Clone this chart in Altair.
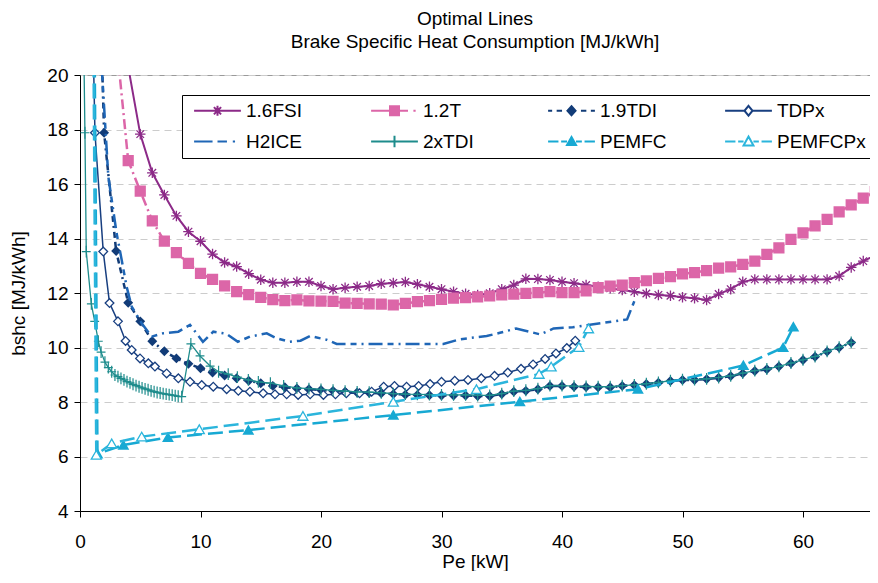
import altair as alt
import pandas as pd

FONT = "Liberation Sans"

SERIES = ["1.6FSI", "1.2T", "1.9TDI", "TDPx", "H2ICE", "2xTDI", "PEMFC", "PEMFCPx"]
COLORS = ["#8C2A88", "#DC66A8", "#123C78", "#183F80", "#1F66B6", "#1E8C8C", "#17A9D3", "#2BB5DC"]

FSI_X = [3, 4, 5, 6, 7, 8, 9, 10, 11, 12, 13, 14, 15, 16, 17, 18, 19, 20, 21, 22, 23, 24, 25, 26,
         27, 28, 29, 30, 31, 32, 33, 34, 35, 36, 37, 38, 39, 40, 41, 42, 43, 44, 45, 46, 47, 48, 49,
         50, 51, 52, 53, 54, 55, 56, 57, 58, 59, 60, 61, 62, 63, 64, 65, 66]
FSI_Y = [24.0, 20.3, 17.83, 16.41, 15.6, 14.83, 14.25, 13.9, 13.43, 13.12,
         12.97, 12.71, 12.49, 12.38, 12.38, 12.41, 12.41, 12.26, 12.14, 12.19,
         12.23, 12.26, 12.34, 12.37, 12.4, 12.32, 12.23, 12.14, 12.05, 11.97,
         11.93, 11.99, 12.14, 12.29, 12.52, 12.51, 12.48, 12.41, 12.36, 12.29,
         12.23, 12.17, 12.11, 12.05, 11.98, 11.93, 11.9, 11.84, 11.81, 11.74,
         11.96, 12.14, 12.41, 12.5, 12.5, 12.5, 12.5, 12.5, 12.5, 12.5,
         12.62, 12.94, 13.17, 13.39]

T12_X = [3, 4, 5, 6, 7, 8, 9, 10, 11, 12, 13, 14, 15, 16, 17, 18, 19, 20, 21, 22, 23, 24, 25, 26,
         27, 28, 29, 30, 31, 32, 33, 34, 35, 36, 37, 38, 39, 40, 41, 42, 43, 44, 45, 46, 47, 48, 49,
         50, 51, 52, 53, 54, 55, 56, 57, 58, 59, 60, 61, 62, 63, 64, 65, 66]
T12_Y = [21.3, 16.86, 15.74, 14.65, 13.9, 13.48, 13.09, 12.72, 12.5, 12.26,
         12.05, 11.94, 11.84, 11.76, 11.72, 11.75, 11.71, 11.7, 11.69, 11.63,
         11.62, 11.6, 11.59, 11.56, 11.62, 11.68, 11.72, 11.77, 11.81, 11.83,
         11.86, 11.89, 11.93, 11.96, 11.99, 12.01, 12.05, 12.01, 12.01, 12.08,
         12.2, 12.25, 12.29, 12.38, 12.45, 12.54, 12.6, 12.7, 12.75, 12.82,
         12.91, 12.96, 13.05, 13.17, 13.42, 13.66, 13.97, 14.21, 14.46, 14.7,
         14.98, 15.23, 15.48, 15.72]

TDI_X = [1.8, 2, 3, 4, 5, 6, 7, 8, 9, 10, 11, 12, 13, 14, 15, 16, 17, 18, 19, 20, 21, 22, 23, 24,
         25, 26, 27, 28, 29, 30, 31, 32, 33, 34, 35, 36, 37, 38, 39, 40, 41, 42, 43, 44, 45, 46,
         47, 48, 49, 50, 51, 52, 53, 54, 55, 56, 57, 58, 59, 60, 61, 62, 63, 64]
TDI_Y = [20.9, 17.88, 13.54, 11.64, 10.96, 10.23, 9.86, 9.6, 9.4, 9.24,
         9.08, 8.97, 8.87, 8.78, 8.69, 8.59, 8.54, 8.5, 8.47, 8.44,
         8.41, 8.38, 8.35, 8.34, 8.32, 8.29, 8.27, 8.26, 8.25, 8.24,
         8.24, 8.24, 8.22, 8.22, 8.29, 8.38, 8.41, 8.47, 8.59, 8.59,
         8.56, 8.55, 8.54, 8.54, 8.59, 8.62, 8.66, 8.71, 8.77, 8.81,
         8.81, 8.84, 8.89, 8.95, 9.05, 9.14, 9.2, 9.3, 9.42, 9.54,
         9.66, 9.85, 10.0, 10.18]

TDPX_X = [1.1, 1.24, 1.93, 2.45, 3.15, 3.78, 4.29, 4.98, 5.67, 6.22,
          7.19, 8.16, 9.13, 10.1, 11.06, 12.17, 13.14, 14.1, 15.2, 16.18,
          17.15, 18.1, 19.1, 20.2, 21.2, 22.1, 23.2, 24.2, 25.2, 26.1,
          27.1, 28.1, 29.05, 30.0, 31.1, 32.2, 33.3, 34.4, 35.5, 36.6,
          37.6, 38.6, 39.5, 40.4, 41.1]
TDPX_Y = [21.0, 17.88, 13.52, 11.63, 10.96, 10.24, 9.91, 9.6, 9.42, 9.3,
          9.05, 8.87, 8.74, 8.62, 8.56, 8.47, 8.41, 8.38, 8.32, 8.28,
          8.28, 8.26, 8.28, 8.26, 8.28, 8.32, 8.32, 8.38, 8.56, 8.59,
          8.56, 8.59, 8.66, 8.74, 8.78, 8.81, 8.87, 8.96, 9.08, 9.22,
          9.38, 9.58, 9.78, 9.98, 10.25]

H2_X = [1.8, 2.35, 3.04, 3.46, 3.87, 4.29, 5.12, 5.95, 6.9, 8.16,
        9.13, 10.2, 11.06, 12.17, 13.1, 14.1, 15.5, 16.3, 17.4, 18.3,
        19.1, 20.5, 21.3, 25.0, 30.15, 31.5, 33.75, 34.85, 36.2, 38.2,
        39.3, 40.9, 42.6, 45.4, 46.0]
H2_Y = [20.3, 16.27, 14.19, 13.21, 12.23, 11.5, 10.89, 10.4, 10.52, 10.58,
        10.83, 10.21, 10.58, 10.5, 10.21, 10.4, 10.52, 10.34, 10.21, 10.25,
        10.42, 10.28, 10.13, 10.13, 10.13, 10.3, 10.42, 10.54, 10.7, 10.48,
        10.7, 10.74, 10.85, 11.03, 11.7]

TDI2_X = [0.3, 0.41, 0.52, 0.94, 1.22, 1.52, 1.75, 2.07, 2.35, 2.63, 2.9,
          3.15, 3.4, 3.65, 3.9, 4.15, 4.4, 4.65, 4.9, 5.15, 5.4,
          5.65, 5.9, 6.15, 6.4, 6.65, 6.9, 7.15, 7.4, 7.65, 7.9,
          8.15, 8.44,
          9.2, 9.96, 10.8, 11.5, 12.3, 13.06, 13.97, 14.8, 15.8, 16.9, 18,
          19, 20, 21, 22, 23, 24, 25, 26, 27, 28,
          29, 30, 31, 32, 33, 34, 35, 36, 37, 38,
          39, 40, 41, 42, 43, 44, 45, 46, 47, 48,
          49, 50, 51, 52, 53, 54, 55, 56, 57, 58,
          59, 60, 61, 62, 63, 64]
TDI2_Y = [21.5, 17.88, 13.52, 11.6, 10.96, 10.23, 9.83, 9.46, 9.26, 9.11, 8.99,
          8.93, 8.87, 8.81, 8.75, 8.7, 8.65, 8.6, 8.56, 8.52, 8.48,
          8.45, 8.41, 8.38, 8.35, 8.33, 8.31, 8.29, 8.27, 8.25, 8.23,
          8.21, 8.2,
          10.13, 9.69, 9.32, 9.11, 9.02, 8.91, 8.81, 8.74, 8.69, 8.59, 8.52,
          8.49, 8.46, 8.43, 8.4, 8.37, 8.36, 8.34, 8.31, 8.29, 8.28,
          8.27, 8.26, 8.26, 8.26, 8.24, 8.24, 8.31, 8.4, 8.43, 8.49,
          8.6, 8.6, 8.58, 8.57, 8.56, 8.56, 8.6, 8.63, 8.67, 8.72,
          8.78, 8.82, 8.82, 8.85, 8.9, 8.96, 9.06, 9.15, 9.21, 9.31,
          9.43, 9.55, 9.67, 9.86, 10.01, 10.19]

PEM_X = [1.2, 1.45, 3.6, 7.3, 13.97, 26.0, 36.5, 46.3, 55.05, 58.35, 59.2]
PEM_Y = [22.0, 6.1, 6.42, 6.7, 6.97, 7.52, 8.01, 8.47, 9.34, 10.0, 10.76]

PEMPX_X = [1.1, 1.35, 2.63, 5.12, 9.9, 18.5, 26.0, 32.9, 38.1, 39.1, 41.4, 42.2]
PEMPX_Y = [22.0, 6.06, 6.48, 6.73, 7.0, 7.49, 8.01, 8.47, 9.03, 9.3, 10.02, 10.7]

X_TICKS = [0, 10, 20, 30, 40, 50, 60]
Y_TICKS = [4, 6, 8, 10, 12, 14, 16, 18, 20]

STAR = "M0,-1L0,1M-1,0L1,0M-0.72,-0.72L0.72,0.72M-0.72,0.72L0.72,-0.72"
PLUS = "M-0.75,0L0.75,0M0,-1L0,1"

LEG_PATHS = [
    "M-5.2,0L5.2,0M0,-1.1L0,1.1M-1.1,0L1.1,0M-0.8,-0.8L0.8,0.8M-0.8,0.8L0.8,-0.8",
    "M-5.2,0L-1,0M1,0L3,0M4.2,0L4.7,0M-1,-1L1,-1L1,1L-1,1Z",
    "M-5.2,0L-4.3,0M-3.3,0L-2.1,0M2.1,0L3.3,0M4.3,0L5.2,0M0,-1L0.9,0L0,1L-0.9,0Z",
    "M-5.2,0L-0.9,0M0.9,0L5.2,0M0,-1.1L0.9,0L0,1.1L-0.9,0Z",
    "M-5.2,0L-1.1,0M0,0L2.1,0M3.4,0L3.9,0",
    "M-5.2,0L5.2,0M0,-1.3L0,1.3",
    "M-5.2,0L-2.9,0M-2.3,0L-1,0M1,0L2.3,0M2.9,0L5.2,0M0,-1L1,0.8L-1,0.8Z",
    "M-5.2,0L-2.9,0M-2.3,0L-1.1,0M1.1,0L2.3,0M2.9,0L5.2,0M0,-1.1L1.1,0.9L-1.1,0.9Z",
]
LEG_FILLS = ["transparent", COLORS[1], COLORS[2], "white", "transparent", "transparent", COLORS[6], "white"]

# legend fills its grid column by column: order entries so rows read like the reference
LEG_IDX = [0, 4, 1, 5, 2, 6, 3, 7]
LEG_DOMAIN = [SERIES[i] for i in LEG_IDX]
LEG_SHAPES = [LEG_PATHS[i] for i in LEG_IDX]
LEG_STROKES = [COLORS[i] for i in LEG_IDX]
LEG_FILL_R = [LEG_FILLS[i] for i in LEG_IDX]

X_ENC = alt.X("x:Q", scale=alt.Scale(domain=[0, 65.56], nice=False, zero=False),
              axis=alt.Axis(values=X_TICKS, title="Pe [kW]", grid=False, tickSize=6,
                            labelPadding=15, titlePadding=1, labelFlush=False, format="d"))
Y_ENC = alt.Y("y:Q", scale=alt.Scale(domain=[4, 20], nice=False, zero=False),
              axis=alt.Axis(values=Y_TICKS, title="bshc [MJ/kWh]", grid=True, gridDash=[7, 5],
                            gridColor="#cccccc", gridWidth=1, tickSize=6, labelPadding=6,
                            titlePadding=18, labelFlush=False, format="d"))


def frame(xs, ys):
    return pd.DataFrame({"x": xs, "y": ys, "i": list(range(len(xs)))})


SPECS = [
    (FSI_X, FSI_Y, dict(strokeWidth=2), dict(shape=STAR, size=110, filled=False, strokeWidth=1.3)),
    (T12_X, T12_Y, dict(strokeWidth=2.5, strokeDash=[10, 4, 2, 4]), dict(shape="square", size=85, filled=True)),
    (TDI_X, TDI_Y, dict(strokeWidth=2.5, strokeDash=[6, 4, 6, 4, 2, 4]), dict(shape="diamond", size=50, filled=True)),
    (TDPX_X, TDPX_Y, dict(strokeWidth=1.5), dict(shape="diamond", size=75, filled=True, fill="white", strokeWidth=1.3)),
    (H2_X, H2_Y, dict(strokeWidth=2.5, strokeDash=[14, 5, 6, 5, 2, 5]), None),
    (TDI2_X, TDI2_Y, dict(strokeWidth=1.3), dict(shape=PLUS, size=140, filled=False, strokeWidth=1.2)),
    (PEM_X, PEM_Y, dict(strokeWidth=2.5, strokeDash=[15, 6]), dict(shape="triangle-up", size=70, filled=True)),
    (PEMPX_X, PEMPX_Y, dict(strokeWidth=2.5, strokeDash=[15, 6]), dict(shape="triangle-up", size=100, filled=True, fill="white", strokeWidth=1.3)),
]

layers = []
for (xs, ys, lstyle, pstyle), color in zip(SPECS, COLORS):
    df = frame(xs, ys)
    base = alt.Chart(df)
    layers.append(base.mark_line(color=color, clip=True, **lstyle).encode(
        x=X_ENC, y=Y_ENC, order="i:Q"))
    if pstyle is not None:
        p = dict(pstyle)
        kw = dict(opacity=1, clip=True, stroke=color)
        if p.get("filled") and "fill" not in p:
            kw["fill"] = color
        kw.update(p)
        layers.append(base.mark_point(**kw).encode(x=X_ENC, y=Y_ENC))

LEG = alt.Legend(title=None, orient="none", legendX=102, legendY=20, columns=4, gridAlign="all",
                 symbolSize=81, symbolStrokeWidth=2, symbolOpacity=1, symbolOffset=20,
                 labelOffset=19, labelFont=FONT, labelFontSize=19, labelColor="black",
                 labelLimit=200, strokeColor="black", fillColor="white", padding=6,
                 rowPadding=10, columnPadding=30)

legend_df = pd.DataFrame({"series": LEG_DOMAIN, "x": [-10] * 8, "y": [10] * 8})
legend_layer = alt.Chart(legend_df).mark_point(filled=True, size=81, opacity=1, clip=True).encode(
    x=X_ENC, y=Y_ENC,
    shape=alt.Shape("series:N", scale=alt.Scale(domain=LEG_DOMAIN, range=LEG_SHAPES), legend=LEG),
    stroke=alt.Stroke("series:N", scale=alt.Scale(domain=LEG_DOMAIN, range=LEG_STROKES), legend=LEG),
    fill=alt.Fill("series:N", scale=alt.Scale(domain=LEG_DOMAIN, range=LEG_FILL_R), legend=LEG),
)

chart = alt.layer(legend_layer, *layers).properties(
    width=790, height=436,
    title=alt.TitleParams(text=["Optimal Lines", "Brake Specific Heat Consumption [MJ/kWh]"],
                          font=FONT, fontSize=19, fontWeight="normal", color="black",
                          anchor="middle", lineHeight=23, baseline="bottom", offset=-5),
    padding={"left": 72, "top": 67, "right": 0, "bottom": 60},
    autosize=alt.AutoSizeParams(type="none"),
).configure_view(stroke="#9a9a9a", strokeWidth=1).configure_axis(
    labelFont=FONT, titleFont=FONT, labelFontSize=19, titleFontSize=19,
    labelColor="black", titleColor="black", titleFontWeight="normal",
    domainColor="black", tickColor="black", domainWidth=1, tickWidth=1)

chart.save("out.html", embed_options={"renderer": "svg", "actions": False})
